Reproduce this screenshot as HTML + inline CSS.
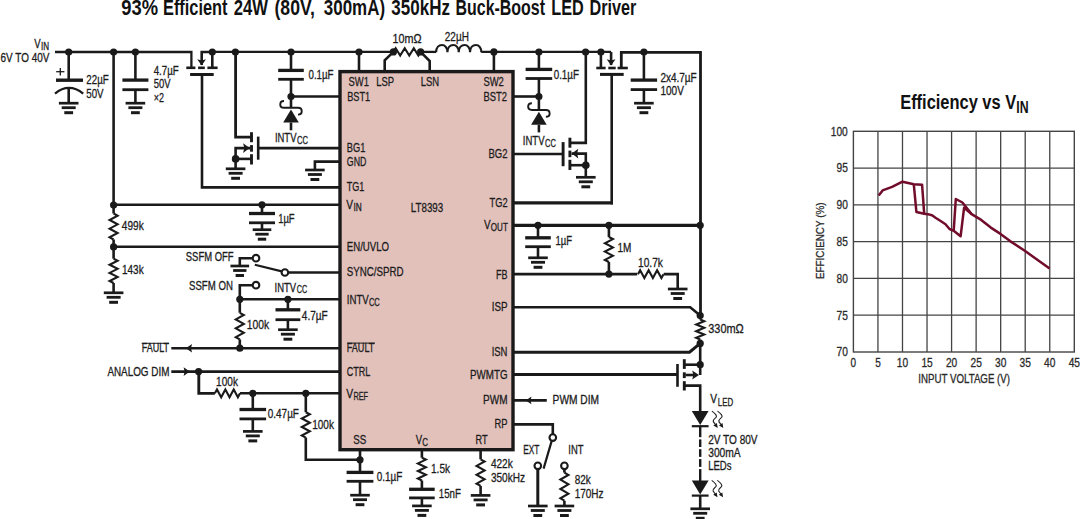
<!DOCTYPE html>
<html><head><meta charset="utf-8"><style>
html,body{margin:0;padding:0;background:#fff;}
svg{display:block;}
text{font-family:"Liberation Sans",sans-serif;}
</style></head><body>
<svg width="1080" height="519" viewBox="0 0 1080 519">
<rect width="1080" height="519" fill="#fff"/>
<text x="121.3" y="15.2" font-size="21.5" font-weight="bold" textLength="36.73" lengthAdjust="spacingAndGlyphs" fill="#111">93%</text>
<text x="163" y="15.2" font-size="21.5" font-weight="bold" textLength="64.57" lengthAdjust="spacingAndGlyphs" fill="#111">Efficient</text>
<text x="233.8" y="15.2" font-size="21.5" font-weight="bold" textLength="34.14" lengthAdjust="spacingAndGlyphs" fill="#111">24W</text>
<text x="274.5" y="15.2" font-size="21.5" font-weight="bold" textLength="40.47" lengthAdjust="spacingAndGlyphs" fill="#111">(80V,</text>
<text x="323.8" y="15.2" font-size="21.5" font-weight="bold" textLength="61.25" lengthAdjust="spacingAndGlyphs" fill="#111">300mA)</text>
<text x="391.3" y="15.2" font-size="21.5" font-weight="bold" textLength="58.64" lengthAdjust="spacingAndGlyphs" fill="#111">350kHz</text>
<text x="455.5" y="15.2" font-size="21.5" font-weight="bold" textLength="89.51" lengthAdjust="spacingAndGlyphs" fill="#111">Buck-Boost</text>
<text x="551.3" y="15.2" font-size="21.5" font-weight="bold" textLength="32.5" lengthAdjust="spacingAndGlyphs" fill="#111">LED</text>
<text x="589.5" y="15.2" font-size="21.5" font-weight="bold" textLength="46.81" lengthAdjust="spacingAndGlyphs" fill="#111">Driver</text>
<text x="34.3" y="47.6" font-size="12.4" textLength="6.37" lengthAdjust="spacingAndGlyphs" fill="#1c1c1c" stroke="#1c1c1c" stroke-width="0.3">V</text>
<text x="41" y="49.5" font-size="10.3" textLength="8.1" lengthAdjust="spacingAndGlyphs" fill="#1c1c1c" stroke="#1c1c1c" stroke-width="0.3">IN</text>
<text x="0.6" y="62" font-size="12.4" textLength="48.8" lengthAdjust="spacingAndGlyphs" fill="#1c1c1c" stroke="#1c1c1c" stroke-width="0.3">6V TO 40V</text>
<polyline points="55,52 191.4,52 191.4,68" fill="none" stroke="#1a1a1a" stroke-width="2.3" stroke-linejoin="miter"/>
<circle cx="68.7" cy="52" r="3.6" fill="#1a1a1a"/>
<circle cx="113.6" cy="52" r="3.6" fill="#1a1a1a"/>
<circle cx="135.4" cy="52" r="3.6" fill="#1a1a1a"/>
<line x1="68.7" y1="52" x2="68.7" y2="80" stroke="#1a1a1a" stroke-width="2.6"/>
<rect x="56" y="78.5" width="27" height="3.4" fill="#1a1a1a"/>
<path d="M55,93.6 Q68.9,82.2 83.2,93.6" fill="none" stroke="#1a1a1a" stroke-width="2.3"/>
<line x1="68.7" y1="88.5" x2="68.7" y2="103" stroke="#1a1a1a" stroke-width="2.6"/>
<rect x="58.9" y="101.85" width="19.6" height="2.7" fill="#1a1a1a"/>
<rect x="61.7" y="106.3" width="14" height="2.8" fill="#1a1a1a"/>
<rect x="64.3" y="111.2" width="8.8" height="3" fill="#1a1a1a"/>
<line x1="56.2" y1="71.7" x2="64.4" y2="71.7" stroke="#1a1a1a" stroke-width="1.3"/>
<line x1="60.3" y1="67.9" x2="60.3" y2="75.5" stroke="#1a1a1a" stroke-width="1.3"/>
<text x="86.3" y="84.3" font-size="12.4" textLength="22.39" lengthAdjust="spacingAndGlyphs" fill="#1c1c1c" stroke="#1c1c1c" stroke-width="0.3">22µF</text>
<text x="86.3" y="97.8" font-size="12.4" textLength="17.29" lengthAdjust="spacingAndGlyphs" fill="#1c1c1c" stroke="#1c1c1c" stroke-width="0.3">50V</text>
<line x1="135.4" y1="52" x2="135.4" y2="80" stroke="#1a1a1a" stroke-width="2.6"/>
<rect x="122.4" y="78.45" width="26" height="3.3" fill="#1a1a1a"/>
<rect x="122.4" y="88.3" width="26" height="2.8" fill="#1a1a1a"/>
<line x1="135.4" y1="89.7" x2="135.4" y2="103" stroke="#1a1a1a" stroke-width="2.6"/>
<rect x="125.6" y="101.85" width="19.6" height="2.7" fill="#1a1a1a"/>
<rect x="128.4" y="106.3" width="14" height="2.8" fill="#1a1a1a"/>
<rect x="131" y="111.2" width="8.8" height="3" fill="#1a1a1a"/>
<text x="153.7" y="74.5" font-size="12.4" textLength="24.97" lengthAdjust="spacingAndGlyphs" fill="#1c1c1c" stroke="#1c1c1c" stroke-width="0.3">4.7µF</text>
<text x="153.7" y="88.4" font-size="12.4" textLength="16.89" lengthAdjust="spacingAndGlyphs" fill="#1c1c1c" stroke="#1c1c1c" stroke-width="0.3">50V</text>
<text x="153.7" y="102.3" font-size="12.4" textLength="10.3" lengthAdjust="spacingAndGlyphs" fill="#1c1c1c" stroke="#1c1c1c" stroke-width="0.3">×2</text>
<line x1="113.6" y1="52" x2="113.6" y2="213.5" stroke="#1a1a1a" stroke-width="2.6"/>
<circle cx="113.6" cy="205" r="3.6" fill="#1a1a1a"/>
<circle cx="113.6" cy="246.9" r="3.6" fill="#1a1a1a"/>
<polyline points="113.6,213.5 117.6,215.67 109.6,220 117.6,224.33 109.6,228.67 117.6,233 109.6,237.33 113.6,239.5" fill="none" stroke="#1a1a1a" stroke-width="2.1" stroke-linejoin="miter"/>
<polyline points="113.6,258.7 117.6,260.72 109.6,264.77 117.6,268.82 109.6,272.88 117.6,276.93 109.6,280.98 113.6,283" fill="none" stroke="#1a1a1a" stroke-width="2.1" stroke-linejoin="miter"/>
<line x1="113.6" y1="239.5" x2="113.6" y2="258.7" stroke="#1a1a1a" stroke-width="2.6"/>
<line x1="113.6" y1="283" x2="113.6" y2="292.8" stroke="#1a1a1a" stroke-width="2.6"/>
<rect x="103.8" y="291.45" width="19.6" height="2.7" fill="#1a1a1a"/>
<rect x="106.6" y="295.9" width="14" height="2.8" fill="#1a1a1a"/>
<rect x="109.2" y="300.8" width="8.8" height="3" fill="#1a1a1a"/>
<text x="121.8" y="230.1" font-size="12.4" textLength="21.88" lengthAdjust="spacingAndGlyphs" fill="#1c1c1c" stroke="#1c1c1c" stroke-width="0.3">499k</text>
<text x="122" y="273.7" font-size="12.4" textLength="21.68" lengthAdjust="spacingAndGlyphs" fill="#1c1c1c" stroke="#1c1c1c" stroke-width="0.3">143k</text>
<rect x="186.3" y="66.5" width="9.1" height="2.6" fill="#1a1a1a"/>
<rect x="198.1" y="66.5" width="6.7" height="2.6" fill="#1a1a1a"/>
<rect x="207.4" y="66.5" width="10.2" height="2.6" fill="#1a1a1a"/>
<rect x="190.1" y="73" width="23.6" height="3" fill="#1a1a1a"/>
<polyline points="212.3,68 212.3,52 201.7,52 201.7,65" fill="none" stroke="#1a1a1a" stroke-width="2.6" stroke-linejoin="miter"/>
<polygon points="201.6,65.6 197.2,59.2 201.6,60.4 206,59.2" fill="#1a1a1a"/>
<circle cx="212.3" cy="52" r="3.6" fill="#1a1a1a"/>
<polyline points="202,74.5 202,187.4 340,187.4" fill="none" stroke="#1a1a1a" stroke-width="2.6" stroke-linejoin="miter"/>
<line x1="212.3" y1="51.9" x2="393.3" y2="51.9" stroke="#1a1a1a" stroke-width="2.3"/>
<circle cx="235.4" cy="52" r="3.6" fill="#1a1a1a"/>
<circle cx="291" cy="52" r="3.6" fill="#1a1a1a"/>
<circle cx="359" cy="52" r="3.6" fill="#1a1a1a"/>
<line x1="359" y1="52" x2="359" y2="72" stroke="#1a1a1a" stroke-width="2.6"/>
<polyline points="235.6,52 235.6,137.2 251.5,137.2" fill="none" stroke="#1a1a1a" stroke-width="2.8" stroke-linejoin="miter"/>
<rect x="250.05" y="132.2" width="2.9" height="10" fill="#1a1a1a"/>
<rect x="250.05" y="145.1" width="2.9" height="6.6" fill="#1a1a1a"/>
<rect x="250.05" y="154.2" width="2.9" height="10.3" fill="#1a1a1a"/>
<rect x="256.9" y="136.6" width="2.6" height="23.1" fill="#1a1a1a"/>
<line x1="258.2" y1="148.1" x2="340" y2="148.1" stroke="#1a1a1a" stroke-width="2.9"/>
<polyline points="250,148.1 235.6,148.1 235.6,168.8" fill="none" stroke="#1a1a1a" stroke-width="2.6" stroke-linejoin="miter"/>
<polygon points="249.6,148.1 243.1,143.3 244.3,148.1 243.1,152.9" fill="#1a1a1a"/>
<line x1="235.6" y1="158.9" x2="251.5" y2="158.9" stroke="#1a1a1a" stroke-width="2.6"/>
<circle cx="235.6" cy="158.9" r="3.8" fill="#1a1a1a"/>
<rect x="225.8" y="167.45" width="19.6" height="2.7" fill="#1a1a1a"/>
<rect x="228.6" y="171.9" width="14" height="2.8" fill="#1a1a1a"/>
<rect x="231.2" y="176.8" width="8.8" height="3" fill="#1a1a1a"/>
<line x1="291" y1="52" x2="291" y2="70.4" stroke="#1a1a1a" stroke-width="2.6"/>
<rect x="278.2" y="68.75" width="25.6" height="3.3" fill="#1a1a1a"/>
<rect x="278.2" y="77.9" width="25.6" height="2.8" fill="#1a1a1a"/>
<line x1="291" y1="79.3" x2="291" y2="96.5" stroke="#1a1a1a" stroke-width="2.6"/>
<circle cx="291" cy="96.5" r="3.6" fill="#1a1a1a"/>
<line x1="291" y1="96.5" x2="340" y2="96.5" stroke="#1a1a1a" stroke-width="2.6"/>
<line x1="291" y1="96.5" x2="291" y2="107.8" stroke="#1a1a1a" stroke-width="2.6"/>
<path d="M284,101 C279,101 279,107.8 284,107.8 L298,107.8 C303,107.8 303,114.6 298,114.6" fill="none" stroke="#1a1a1a" stroke-width="1.9"/>
<polygon points="291,109.5 283.2,122.5 298.8,122.5" fill="#1a1a1a"/>
<line x1="291" y1="122.5" x2="291" y2="130.3" stroke="#1a1a1a" stroke-width="2.6"/>
<text x="308.5" y="79.2" font-size="12.4" textLength="24.97" lengthAdjust="spacingAndGlyphs" fill="#1c1c1c" stroke="#1c1c1c" stroke-width="0.3">0.1µF</text>
<text x="274.9" y="141.8" font-size="12.4" textLength="21.58" lengthAdjust="spacingAndGlyphs" fill="#1c1c1c" stroke="#1c1c1c" stroke-width="0.3">INTV</text>
<text x="297" y="143.6" font-size="10.6" textLength="11.03" lengthAdjust="spacingAndGlyphs" fill="#1c1c1c" stroke="#1c1c1c" stroke-width="0.3">CC</text>
<polyline points="340,161.6 314.9,161.6 314.9,170" fill="none" stroke="#1a1a1a" stroke-width="2.6" stroke-linejoin="miter"/>
<rect x="305.1" y="168.65" width="19.6" height="2.7" fill="#1a1a1a"/>
<rect x="307.9" y="173.1" width="14" height="2.8" fill="#1a1a1a"/>
<rect x="310.5" y="178" width="8.8" height="3" fill="#1a1a1a"/>
<circle cx="393.4" cy="51.9" r="3.6" fill="#1a1a1a"/>
<polyline points="393.4,51.9 384.7,60.2 384.7,72" fill="none" stroke="#1a1a1a" stroke-width="2.6" stroke-linejoin="miter"/>
<polyline points="393.4,51.9 395.67,48.3 400.2,55.5 404.73,48.3 409.27,55.5 413.8,48.3 418.33,55.5 420.6,51.9" fill="none" stroke="#1a1a1a" stroke-width="2.1" stroke-linejoin="miter"/>
<circle cx="420.6" cy="51.9" r="3.6" fill="#1a1a1a"/>
<polyline points="420.6,51.9 429.7,61 429.7,72" fill="none" stroke="#1a1a1a" stroke-width="2.6" stroke-linejoin="miter"/>
<line x1="420.6" y1="51.9" x2="436.1" y2="51.9" stroke="#1a1a1a" stroke-width="2.3"/>
<path d="M436.1,52.3 C436.3,42.6 447.7,42.6 447.4,52.3 C447.6,42.6 459,42.6 458.7,52.3 C458.9,42.6 470.3,42.6 470,52.3 C470.2,42.6 481.6,42.6 481.3,52.3" fill="none" stroke="#1a1a1a" stroke-width="2.2"/>
<line x1="481.3" y1="51.9" x2="611.1" y2="51.9" stroke="#1a1a1a" stroke-width="2.3"/>
<text x="392.5" y="42.6" font-size="12.4" textLength="29.03" lengthAdjust="spacingAndGlyphs" fill="#1c1c1c" stroke="#1c1c1c" stroke-width="0.3">10mΩ</text>
<text x="444.8" y="40.5" font-size="12.4" textLength="24.11" lengthAdjust="spacingAndGlyphs" fill="#1c1c1c" stroke="#1c1c1c" stroke-width="0.3">22µH</text>
<circle cx="493.9" cy="51.9" r="3.6" fill="#1a1a1a"/>
<circle cx="538.9" cy="52" r="3.6" fill="#1a1a1a"/>
<circle cx="585.6" cy="52" r="3.6" fill="#1a1a1a"/>
<circle cx="600.9" cy="52" r="3.6" fill="#1a1a1a"/>
<line x1="493.9" y1="51.9" x2="493.9" y2="72" stroke="#1a1a1a" stroke-width="2.6"/>
<rect x="596.3" y="66.7" width="9.3" height="2.6" fill="#1a1a1a"/>
<rect x="608.3" y="66.7" width="7.4" height="2.6" fill="#1a1a1a"/>
<rect x="617.6" y="66.7" width="10.2" height="2.6" fill="#1a1a1a"/>
<rect x="600" y="72.9" width="23.7" height="3" fill="#1a1a1a"/>
<line x1="600.9" y1="52" x2="600.9" y2="68" stroke="#1a1a1a" stroke-width="2.6"/>
<polyline points="611.1,52 611.1,65" fill="none" stroke="#1a1a1a" stroke-width="2.6" stroke-linejoin="miter"/>
<polygon points="611.1,65.6 606.7,59.2 611.1,60.4 615.5,59.2" fill="#1a1a1a"/>
<line x1="611.7" y1="74.4" x2="611.7" y2="204.4" stroke="#1a1a1a" stroke-width="2.6"/>
<line x1="613" y1="202.9" x2="512.7" y2="202.9" stroke="#1a1a1a" stroke-width="3.2"/>
<polyline points="621.3,68 621.3,52.3 700.5,52.3 700.5,315.5" fill="none" stroke="#1a1a1a" stroke-width="2.8" stroke-linejoin="miter"/>
<circle cx="643.9" cy="52" r="3.6" fill="#1a1a1a"/>
<line x1="643.9" y1="52" x2="643.9" y2="80" stroke="#1a1a1a" stroke-width="2.6"/>
<rect x="630.7" y="78.45" width="26.4" height="3.3" fill="#1a1a1a"/>
<rect x="630.7" y="88.2" width="26.4" height="2.8" fill="#1a1a1a"/>
<line x1="643.9" y1="89.6" x2="643.9" y2="103.2" stroke="#1a1a1a" stroke-width="2.6"/>
<rect x="634.1" y="101.85" width="19.6" height="2.7" fill="#1a1a1a"/>
<rect x="636.9" y="106.3" width="14" height="2.8" fill="#1a1a1a"/>
<rect x="639.5" y="111.2" width="8.8" height="3" fill="#1a1a1a"/>
<text x="660.4" y="81.8" font-size="12.4" textLength="36.23" lengthAdjust="spacingAndGlyphs" fill="#1c1c1c" stroke="#1c1c1c" stroke-width="0.3">2x4.7µF</text>
<text x="660.4" y="94.9" font-size="12.4" textLength="23.45" lengthAdjust="spacingAndGlyphs" fill="#1c1c1c" stroke="#1c1c1c" stroke-width="0.3">100V</text>
<polyline points="585.8,52 585.8,142.9 569.9,142.9" fill="none" stroke="#1a1a1a" stroke-width="2.6" stroke-linejoin="miter"/>
<rect x="568.45" y="137.7" width="2.9" height="10" fill="#1a1a1a"/>
<rect x="568.45" y="150.6" width="2.9" height="6.6" fill="#1a1a1a"/>
<rect x="568.45" y="159.8" width="2.9" height="10.2" fill="#1a1a1a"/>
<rect x="561.65" y="142.1" width="2.9" height="24.1" fill="#1a1a1a"/>
<line x1="563.1" y1="154" x2="512.7" y2="154" stroke="#1a1a1a" stroke-width="2.6"/>
<polyline points="571.5,153.6 585.8,153.6 585.8,177.3" fill="none" stroke="#1a1a1a" stroke-width="2.6" stroke-linejoin="miter"/>
<polygon points="571.8,153.6 578.3,148.8 577.1,153.6 578.3,158.4" fill="#1a1a1a"/>
<line x1="569.9" y1="165.2" x2="585.8" y2="165.2" stroke="#1a1a1a" stroke-width="2.6"/>
<circle cx="585.8" cy="165.2" r="3.8" fill="#1a1a1a"/>
<rect x="576" y="175.95" width="19.6" height="2.7" fill="#1a1a1a"/>
<rect x="578.8" y="180.4" width="14" height="2.8" fill="#1a1a1a"/>
<rect x="581.4" y="185.3" width="8.8" height="3" fill="#1a1a1a"/>
<line x1="538.9" y1="52" x2="538.9" y2="69.4" stroke="#1a1a1a" stroke-width="2.6"/>
<rect x="525.6" y="67.75" width="26.6" height="3.3" fill="#1a1a1a"/>
<rect x="525.6" y="77.1" width="26.6" height="2.8" fill="#1a1a1a"/>
<line x1="538.9" y1="78.5" x2="538.9" y2="96.5" stroke="#1a1a1a" stroke-width="2.6"/>
<circle cx="538.9" cy="96.5" r="3.6" fill="#1a1a1a"/>
<line x1="538.9" y1="96.5" x2="512.7" y2="96.5" stroke="#1a1a1a" stroke-width="2.6"/>
<line x1="538.9" y1="96.5" x2="538.9" y2="110" stroke="#1a1a1a" stroke-width="2.6"/>
<path d="M531.9,103.2 C526.9,103.2 526.9,110 531.9,110 L545.9,110 C550.9,110 550.9,116.8 545.9,116.8" fill="none" stroke="#1a1a1a" stroke-width="1.9"/>
<polygon points="538.9,111.8 531.1,124.8 546.7,124.8" fill="#1a1a1a"/>
<line x1="538.9" y1="124.8" x2="538.9" y2="132.4" stroke="#1a1a1a" stroke-width="2.6"/>
<text x="553.7" y="78.6" font-size="12.4" textLength="25.27" lengthAdjust="spacingAndGlyphs" fill="#1c1c1c" stroke="#1c1c1c" stroke-width="0.3">0.1µF</text>
<text x="522.8" y="144.6" font-size="12.4" textLength="21.78" lengthAdjust="spacingAndGlyphs" fill="#1c1c1c" stroke="#1c1c1c" stroke-width="0.3">INTV</text>
<text x="545" y="147.2" font-size="10.6" textLength="10.83" lengthAdjust="spacingAndGlyphs" fill="#1c1c1c" stroke="#1c1c1c" stroke-width="0.3">CC</text>
<rect x="340.0" y="71.6" width="173.0" height="378.1" fill="#e2c1bb" stroke="#1a1a1a" stroke-width="3.4"/>
<line x1="113.6" y1="204.8" x2="340" y2="204.8" stroke="#1a1a1a" stroke-width="2.6"/>
<circle cx="262" cy="204.8" r="3.6" fill="#1a1a1a"/>
<line x1="262" y1="204.8" x2="262" y2="213.5" stroke="#1a1a1a" stroke-width="2.6"/>
<rect x="249" y="211.85" width="26" height="3.3" fill="#1a1a1a"/>
<rect x="249" y="221.4" width="26" height="2.8" fill="#1a1a1a"/>
<line x1="262" y1="222.8" x2="262" y2="229.7" stroke="#1a1a1a" stroke-width="2.6"/>
<rect x="252.69" y="228.35" width="18.62" height="2.7" fill="#1a1a1a"/>
<rect x="255.35" y="232.8" width="13.3" height="2.8" fill="#1a1a1a"/>
<rect x="257.82" y="237.7" width="8.36" height="3" fill="#1a1a1a"/>
<text x="278.2" y="222.8" font-size="12.4" textLength="16.43" lengthAdjust="spacingAndGlyphs" fill="#1c1c1c" stroke="#1c1c1c" stroke-width="0.3">1µF</text>
<line x1="113.6" y1="246.8" x2="340" y2="246.8" stroke="#1a1a1a" stroke-width="2.6"/>
<line x1="287.9" y1="272.5" x2="340" y2="272.5" stroke="#1a1a1a" stroke-width="2.6"/>
<circle cx="284.9" cy="272.5" r="3.3" fill="#fff" stroke="#1a1a1a" stroke-width="2.1"/>
<line x1="281.8" y1="271.4" x2="254.8" y2="264.8" stroke="#1a1a1a" stroke-width="2.2"/>
<circle cx="256" cy="258.2" r="3.3" fill="#fff" stroke="#1a1a1a" stroke-width="2.1"/>
<polyline points="253,258.2 239.8,258.2 239.8,266" fill="none" stroke="#1a1a1a" stroke-width="2.6" stroke-linejoin="miter"/>
<rect x="230.49" y="264.65" width="18.62" height="2.7" fill="#1a1a1a"/>
<rect x="233.15" y="269.1" width="13.3" height="2.8" fill="#1a1a1a"/>
<rect x="235.62" y="274" width="8.36" height="3" fill="#1a1a1a"/>
<circle cx="256" cy="285.2" r="3.3" fill="#fff" stroke="#1a1a1a" stroke-width="2.1"/>
<polyline points="253,285.2 239.8,285.2 239.8,312.8" fill="none" stroke="#1a1a1a" stroke-width="2.6" stroke-linejoin="miter"/>
<text x="185.8" y="261.3" font-size="12.4" textLength="47.75" lengthAdjust="spacingAndGlyphs" fill="#1c1c1c" stroke="#1c1c1c" stroke-width="0.3">SSFM OFF</text>
<text x="189" y="289.7" font-size="12.4" textLength="43.86" lengthAdjust="spacingAndGlyphs" fill="#1c1c1c" stroke="#1c1c1c" stroke-width="0.3">SSFM ON</text>
<text x="274.6" y="291.5" font-size="12.4" textLength="21.58" lengthAdjust="spacingAndGlyphs" fill="#1c1c1c" stroke="#1c1c1c" stroke-width="0.3">INTV</text>
<text x="296.8" y="292.8" font-size="10.6" textLength="10.43" lengthAdjust="spacingAndGlyphs" fill="#1c1c1c" stroke="#1c1c1c" stroke-width="0.3">CC</text>
<line x1="239.8" y1="299.3" x2="340" y2="299.3" stroke="#1a1a1a" stroke-width="2.6"/>
<circle cx="239.8" cy="299.3" r="3.6" fill="#1a1a1a"/>
<circle cx="287.9" cy="299.3" r="3.6" fill="#1a1a1a"/>
<line x1="287.9" y1="299.3" x2="287.9" y2="309.8" stroke="#1a1a1a" stroke-width="2.6"/>
<rect x="275.5" y="308.15" width="24.8" height="3.3" fill="#1a1a1a"/>
<rect x="275.5" y="318.3" width="24.8" height="2.8" fill="#1a1a1a"/>
<line x1="287.9" y1="319.7" x2="287.9" y2="329.7" stroke="#1a1a1a" stroke-width="2.6"/>
<rect x="278.1" y="328.35" width="19.6" height="2.7" fill="#1a1a1a"/>
<rect x="280.9" y="332.8" width="14" height="2.8" fill="#1a1a1a"/>
<rect x="283.5" y="337.7" width="8.8" height="3" fill="#1a1a1a"/>
<text x="301.8" y="319.7" font-size="12.4" textLength="25.87" lengthAdjust="spacingAndGlyphs" fill="#1c1c1c" stroke="#1c1c1c" stroke-width="0.3">4.7µF</text>
<polyline points="239.8,312.8 243.8,315.02 235.8,319.45 243.8,323.88 235.8,328.32 243.8,332.75 235.8,337.18 239.8,339.4" fill="none" stroke="#1a1a1a" stroke-width="2.1" stroke-linejoin="miter"/>
<line x1="239.8" y1="339.4" x2="239.8" y2="348.2" stroke="#1a1a1a" stroke-width="2.6"/>
<text x="246.7" y="329" font-size="12.4" textLength="22.38" lengthAdjust="spacingAndGlyphs" fill="#1c1c1c" stroke="#1c1c1c" stroke-width="0.3">100k</text>
<line x1="171.3" y1="348.2" x2="340" y2="348.2" stroke="#1a1a1a" stroke-width="2.6"/>
<polygon points="185.8,348.2 192,343.9 191,348.2 192,352.5" fill="#1a1a1a"/>
<circle cx="239.8" cy="348.2" r="3.6" fill="#1a1a1a"/>
<text x="141.7" y="352" font-size="12.4" textLength="27.28" lengthAdjust="spacingAndGlyphs" fill="#1c1c1c" stroke="#1c1c1c" stroke-width="0.3">FAULT</text>
<line x1="141.7" y1="343.3" x2="169" y2="343.3" stroke="#1c1c1c" stroke-width="1"/>
<line x1="171.3" y1="371.6" x2="340" y2="371.6" stroke="#1a1a1a" stroke-width="2.6"/>
<polygon points="189.8,371.6 183.6,367.3 184.6,371.6 183.6,375.9" fill="#1a1a1a"/>
<circle cx="198.6" cy="371.6" r="3.6" fill="#1a1a1a"/>
<text x="107.4" y="375.6" font-size="12.4" textLength="61.99" lengthAdjust="spacingAndGlyphs" fill="#1c1c1c" stroke="#1c1c1c" stroke-width="0.3">ANALOG DIM</text>
<polyline points="198.8,371.6 198.8,393.4 214.9,393.4" fill="none" stroke="#1a1a1a" stroke-width="2.9" stroke-linejoin="miter"/>
<polyline points="214.9,393.3 216.99,389.4 221.18,397.2 225.36,389.4 229.54,397.2 233.72,389.4 237.91,397.2 240,393.3" fill="none" stroke="#1a1a1a" stroke-width="2.1" stroke-linejoin="miter"/>
<line x1="240" y1="393.3" x2="340" y2="393.3" stroke="#1a1a1a" stroke-width="2.6"/>
<text x="216.1" y="385.7" font-size="12.4" textLength="21.88" lengthAdjust="spacingAndGlyphs" fill="#1c1c1c" stroke="#1c1c1c" stroke-width="0.3">100k</text>
<circle cx="252.8" cy="393.3" r="3.6" fill="#1a1a1a"/>
<circle cx="305.8" cy="393.3" r="3.6" fill="#1a1a1a"/>
<line x1="252.8" y1="393.3" x2="252.8" y2="409.5" stroke="#1a1a1a" stroke-width="2.6"/>
<rect x="239.5" y="407.85" width="26.6" height="3.3" fill="#1a1a1a"/>
<rect x="239.5" y="417.5" width="26.6" height="2.8" fill="#1a1a1a"/>
<line x1="252.8" y1="418.9" x2="252.8" y2="431.4" stroke="#1a1a1a" stroke-width="2.6"/>
<rect x="243" y="430.05" width="19.6" height="2.7" fill="#1a1a1a"/>
<rect x="245.8" y="434.5" width="14" height="2.8" fill="#1a1a1a"/>
<rect x="248.4" y="439.4" width="8.8" height="3" fill="#1a1a1a"/>
<text x="267.8" y="417.6" font-size="12.4" textLength="31.13" lengthAdjust="spacingAndGlyphs" fill="#1c1c1c" stroke="#1c1c1c" stroke-width="0.3">0.47µF</text>
<line x1="305.8" y1="393.3" x2="305.8" y2="412.2" stroke="#1a1a1a" stroke-width="2.6"/>
<polyline points="305.8,412.2 309.8,414.32 301.8,418.55 309.8,422.78 301.8,427.02 309.8,431.25 301.8,435.48 305.8,437.6" fill="none" stroke="#1a1a1a" stroke-width="2.1" stroke-linejoin="miter"/>
<polyline points="305.8,437.6 305.8,459.8 360,459.8" fill="none" stroke="#1a1a1a" stroke-width="2.6" stroke-linejoin="miter"/>
<text x="312.2" y="429.4" font-size="12.4" textLength="21.78" lengthAdjust="spacingAndGlyphs" fill="#1c1c1c" stroke="#1c1c1c" stroke-width="0.3">100k</text>
<line x1="360" y1="450" x2="360" y2="472.4" stroke="#1a1a1a" stroke-width="2.6"/>
<circle cx="360" cy="459.8" r="3.6" fill="#1a1a1a"/>
<rect x="346.6" y="470.75" width="26.8" height="3.3" fill="#1a1a1a"/>
<rect x="346.6" y="479.9" width="26.8" height="2.8" fill="#1a1a1a"/>
<line x1="360" y1="481.3" x2="360" y2="495.2" stroke="#1a1a1a" stroke-width="2.6"/>
<rect x="350.2" y="493.85" width="19.6" height="2.7" fill="#1a1a1a"/>
<rect x="353" y="498.3" width="14" height="2.8" fill="#1a1a1a"/>
<rect x="355.6" y="503.2" width="8.8" height="3" fill="#1a1a1a"/>
<text x="376.8" y="481.2" font-size="12.4" textLength="25.57" lengthAdjust="spacingAndGlyphs" fill="#1c1c1c" stroke="#1c1c1c" stroke-width="0.3">0.1µF</text>
<line x1="421.9" y1="450" x2="421.9" y2="457.7" stroke="#1a1a1a" stroke-width="2.6"/>
<polyline points="421.9,457.7 425.9,459.6 417.9,463.4 425.9,467.2 417.9,471 425.9,474.8 417.9,478.6 421.9,480.5" fill="none" stroke="#1a1a1a" stroke-width="2.1" stroke-linejoin="miter"/>
<line x1="421.9" y1="480.5" x2="421.9" y2="489.3" stroke="#1a1a1a" stroke-width="2.6"/>
<rect x="409.1" y="487.65" width="25.6" height="3.3" fill="#1a1a1a"/>
<rect x="409.1" y="496.5" width="25.6" height="2.8" fill="#1a1a1a"/>
<line x1="421.9" y1="497.9" x2="421.9" y2="505.9" stroke="#1a1a1a" stroke-width="2.6"/>
<rect x="412.1" y="504.55" width="19.6" height="2.7" fill="#1a1a1a"/>
<rect x="414.9" y="509" width="14" height="2.8" fill="#1a1a1a"/>
<rect x="417.5" y="513.9" width="8.8" height="3" fill="#1a1a1a"/>
<text x="431" y="472.6" font-size="12.4" textLength="19" lengthAdjust="spacingAndGlyphs" fill="#1c1c1c" stroke="#1c1c1c" stroke-width="0.3">1.5k</text>
<text x="438.8" y="497.7" font-size="12.4" textLength="22.09" lengthAdjust="spacingAndGlyphs" fill="#1c1c1c" stroke="#1c1c1c" stroke-width="0.3">15nF</text>
<line x1="480.6" y1="450" x2="480.6" y2="459.3" stroke="#1a1a1a" stroke-width="2.6"/>
<polyline points="480.6,459.3 484.6,461.52 476.6,465.95 484.6,470.38 476.6,474.82 484.6,479.25 476.6,483.68 480.6,485.9" fill="none" stroke="#1a1a1a" stroke-width="2.1" stroke-linejoin="miter"/>
<line x1="480.6" y1="485.9" x2="480.6" y2="495.4" stroke="#1a1a1a" stroke-width="2.6"/>
<rect x="470.8" y="494.05" width="19.6" height="2.7" fill="#1a1a1a"/>
<rect x="473.6" y="498.5" width="14" height="2.8" fill="#1a1a1a"/>
<rect x="476.2" y="503.4" width="8.8" height="3" fill="#1a1a1a"/>
<text x="490.9" y="467.7" font-size="12.4" textLength="21.88" lengthAdjust="spacingAndGlyphs" fill="#1c1c1c" stroke="#1c1c1c" stroke-width="0.3">422k</text>
<text x="490.9" y="481.6" font-size="12.4" textLength="34.1" lengthAdjust="spacingAndGlyphs" fill="#1c1c1c" stroke="#1c1c1c" stroke-width="0.3">350kHz</text>
<line x1="512.7" y1="225.4" x2="700.2" y2="225.4" stroke="#1a1a1a" stroke-width="3.1"/>
<circle cx="538" cy="225.3" r="3.6" fill="#1a1a1a"/>
<circle cx="608.9" cy="225.3" r="3.6" fill="#1a1a1a"/>
<circle cx="700.2" cy="225.3" r="3.6" fill="#1a1a1a"/>
<line x1="538" y1="225.3" x2="538" y2="237.8" stroke="#1a1a1a" stroke-width="2.6"/>
<rect x="525.2" y="236.15" width="25.6" height="3.3" fill="#1a1a1a"/>
<rect x="525.2" y="245.3" width="25.6" height="2.8" fill="#1a1a1a"/>
<line x1="538" y1="246.7" x2="538" y2="257.8" stroke="#1a1a1a" stroke-width="2.6"/>
<rect x="528.2" y="256.45" width="19.6" height="2.7" fill="#1a1a1a"/>
<rect x="531" y="260.9" width="14" height="2.8" fill="#1a1a1a"/>
<rect x="533.6" y="265.8" width="8.8" height="3" fill="#1a1a1a"/>
<text x="555.4" y="245.3" font-size="12.4" textLength="16.53" lengthAdjust="spacingAndGlyphs" fill="#1c1c1c" stroke="#1c1c1c" stroke-width="0.3">1µF</text>
<line x1="608.9" y1="225.3" x2="608.9" y2="237" stroke="#1a1a1a" stroke-width="2.6"/>
<polyline points="608.9,237 612.9,239.08 604.9,243.25 612.9,247.42 604.9,251.58 612.9,255.75 604.9,259.92 608.9,262" fill="none" stroke="#1a1a1a" stroke-width="2.1" stroke-linejoin="miter"/>
<line x1="608.9" y1="262" x2="608.9" y2="274.1" stroke="#1a1a1a" stroke-width="2.6"/>
<text x="617.4" y="252.2" font-size="12.4" textLength="13.89" lengthAdjust="spacingAndGlyphs" fill="#1c1c1c" stroke="#1c1c1c" stroke-width="0.3">1M</text>
<line x1="512.7" y1="274.1" x2="637.2" y2="274.1" stroke="#1a1a1a" stroke-width="2.6"/>
<circle cx="608.9" cy="274.1" r="3.6" fill="#1a1a1a"/>
<polyline points="638,274.2 640.12,270.3 644.38,278.1 648.62,270.3 652.88,278.1 657.12,270.3 661.38,278.1 663.5,274.2" fill="none" stroke="#1a1a1a" stroke-width="2.1" stroke-linejoin="miter"/>
<polyline points="663.7,274.1 677.7,274.1 677.7,289" fill="none" stroke="#1a1a1a" stroke-width="2.6" stroke-linejoin="miter"/>
<rect x="667.9" y="287.65" width="19.6" height="2.7" fill="#1a1a1a"/>
<rect x="670.7" y="292.1" width="14" height="2.8" fill="#1a1a1a"/>
<rect x="673.3" y="297" width="8.8" height="3" fill="#1a1a1a"/>
<text x="638" y="266.8" font-size="12.4" textLength="24.86" lengthAdjust="spacingAndGlyphs" fill="#1c1c1c" stroke="#1c1c1c" stroke-width="0.3">10.7k</text>
<polyline points="512.7,307.3 690.2,307.3 700.2,315.5" fill="none" stroke="#1a1a1a" stroke-width="2.6" stroke-linejoin="miter"/>
<circle cx="700.2" cy="315.5" r="3.6" fill="#1a1a1a"/>
<polyline points="700.2,319.5 704.2,321.17 696.2,324.5 704.2,327.83 696.2,331.17 704.2,334.5 696.2,337.83 700.2,339.5" fill="none" stroke="#1a1a1a" stroke-width="2.1" stroke-linejoin="miter"/>
<line x1="700.2" y1="315.5" x2="700.2" y2="319.5" stroke="#1a1a1a" stroke-width="2.6"/>
<line x1="700.2" y1="339.5" x2="700.2" y2="364.7" stroke="#1a1a1a" stroke-width="2.6"/>
<circle cx="700.2" cy="343.4" r="3.6" fill="#1a1a1a"/>
<polyline points="512.7,352.2 689.5,352.2 700.2,343.4" fill="none" stroke="#1a1a1a" stroke-width="3" stroke-linejoin="miter"/>
<text x="708.3" y="332.8" font-size="12.4" textLength="35.49" lengthAdjust="spacingAndGlyphs" fill="#1c1c1c" stroke="#1c1c1c" stroke-width="0.3">330mΩ</text>
<circle cx="700.2" cy="364.7" r="3.6" fill="#1a1a1a"/>
<rect x="682.85" y="359.2" width="2.9" height="9.7" fill="#1a1a1a"/>
<rect x="682.85" y="372.3" width="2.9" height="5.8" fill="#1a1a1a"/>
<rect x="682.85" y="381.2" width="2.9" height="9.3" fill="#1a1a1a"/>
<rect x="676.2" y="364" width="2.6" height="22.8" fill="#1a1a1a"/>
<line x1="512.7" y1="374.5" x2="677.5" y2="374.5" stroke="#1a1a1a" stroke-width="3.1"/>
<line x1="684.2" y1="364.7" x2="700.2" y2="364.7" stroke="#1a1a1a" stroke-width="2.6"/>
<line x1="685.5" y1="375" x2="694" y2="375" stroke="#1a1a1a" stroke-width="2.6"/>
<line x1="700.2" y1="375" x2="700.2" y2="364.7" stroke="#1a1a1a" stroke-width="2.6"/>
<polygon points="699,375 692.2,370.4 693.4,375 692.2,379.6" fill="#1a1a1a"/>
<polyline points="684.2,385.6 700.2,385.6 700.2,411" fill="none" stroke="#1a1a1a" stroke-width="2.6" stroke-linejoin="miter"/>
<text x="710.3" y="402.8" font-size="12.4" textLength="6.77" lengthAdjust="spacingAndGlyphs" fill="#1c1c1c" stroke="#1c1c1c" stroke-width="0.3">V</text>
<text x="717.8" y="405.6" font-size="10" textLength="15.36" lengthAdjust="spacingAndGlyphs" fill="#1c1c1c" stroke="#1c1c1c" stroke-width="0.3">LED</text>
<polygon points="691.8,411 708.6,411 700.2,425" fill="#1a1a1a"/>
<rect x="691.8" y="425.1" width="16.8" height="2.2" fill="#1a1a1a"/>
<line x1="700.2" y1="426.2" x2="700.2" y2="481" stroke="#1a1a1a" stroke-width="2.4"/>
<rect x="698" y="437.2" width="4.4" height="2.2" fill="#fff"/>
<rect x="698" y="447" width="4.4" height="2.2" fill="#fff"/>
<rect x="698" y="456.9" width="4.4" height="2.2" fill="#fff"/>
<rect x="698" y="466.9" width="4.4" height="2.2" fill="#fff"/>
<polygon points="691.8,480.6 708.6,480.6 700.2,494.6" fill="#1a1a1a"/>
<rect x="691.8" y="494.5" width="16.8" height="2.2" fill="#1a1a1a"/>
<line x1="700.2" y1="495.6" x2="700.2" y2="508.8" stroke="#1a1a1a" stroke-width="2.6"/>
<rect x="690.4" y="507.45" width="19.6" height="2.7" fill="#1a1a1a"/>
<rect x="693.2" y="511.9" width="14" height="2.8" fill="#1a1a1a"/>
<rect x="695.8" y="516.8" width="8.8" height="3" fill="#1a1a1a"/>
<text x="708.2" y="444.1" font-size="12.4" textLength="49.4" lengthAdjust="spacingAndGlyphs" fill="#1c1c1c" stroke="#1c1c1c" stroke-width="0.3">2V TO 80V</text>
<text x="708.2" y="457.1" font-size="12.4" textLength="32.48" lengthAdjust="spacingAndGlyphs" fill="#1c1c1c" stroke="#1c1c1c" stroke-width="0.3">300mA</text>
<text x="708.2" y="470.1" font-size="12.4" textLength="23.36" lengthAdjust="spacingAndGlyphs" fill="#1c1c1c" stroke="#1c1c1c" stroke-width="0.3">LEDs</text>
<path d="M711.9,411.1 C715.4,413.6 717.4,416.1 716.1,417.4 C714.7,418.7 712.7,419.7 713.3,421.7 L715.5,424.7" fill="none" stroke="#222" stroke-width="1.15"/>
<polygon points="717.7,428 716.9,423.1 713.4,425.5" fill="#1a1a1a"/>
<path d="M717.5,411.1 C721,413.6 723,416.1 721.7,417.4 C720.3,418.7 718.3,419.7 718.9,421.7 L721.1,424.7" fill="none" stroke="#222" stroke-width="1.15"/>
<polygon points="723.3,428 722.5,423.1 719,425.5" fill="#1a1a1a"/>
<path d="M711.7,480.4 C715.2,482.9 717.2,485.4 715.9,486.7 C714.5,488 712.5,489 713.1,491 L715.3,494" fill="none" stroke="#222" stroke-width="1.15"/>
<polygon points="717.5,497.3 716.7,492.4 713.2,494.8" fill="#1a1a1a"/>
<path d="M717.3,480.4 C720.8,482.9 722.8,485.4 721.5,486.7 C720.1,488 718.1,489 718.7,491 L720.9,494" fill="none" stroke="#222" stroke-width="1.15"/>
<polygon points="723.1,497.3 722.3,492.4 718.8,494.8" fill="#1a1a1a"/>
<line x1="512.7" y1="400.4" x2="546.8" y2="400.4" stroke="#1a1a1a" stroke-width="2.6"/>
<polygon points="525.7,400.4 531.5,396.5 530.5,400.4 531.5,404.3" fill="#1a1a1a"/>
<text x="552.6" y="403.9" font-size="12.4" textLength="46.45" lengthAdjust="spacingAndGlyphs" fill="#1c1c1c" stroke="#1c1c1c" stroke-width="0.3">PWM DIM</text>
<polyline points="512.7,424.4 552.8,424.4 552.8,434.6" fill="none" stroke="#1a1a1a" stroke-width="2.6" stroke-linejoin="miter"/>
<circle cx="552.8" cy="437.6" r="3.3" fill="#fff" stroke="#1a1a1a" stroke-width="2.1"/>
<line x1="551.7" y1="440.9" x2="543.6" y2="468.6" stroke="#1a1a1a" stroke-width="2.2"/>
<circle cx="537.8" cy="465.8" r="3.3" fill="#fff" stroke="#1a1a1a" stroke-width="2.1"/>
<line x1="537.8" y1="468.8" x2="537.8" y2="506" stroke="#1a1a1a" stroke-width="3"/>
<rect x="528" y="504.65" width="19.6" height="2.7" fill="#1a1a1a"/>
<rect x="530.8" y="509.1" width="14" height="2.8" fill="#1a1a1a"/>
<rect x="533.4" y="514" width="8.8" height="3" fill="#1a1a1a"/>
<circle cx="564.4" cy="465.8" r="3.3" fill="#fff" stroke="#1a1a1a" stroke-width="2.1"/>
<line x1="564.4" y1="468.8" x2="564.4" y2="472.6" stroke="#1a1a1a" stroke-width="2.6"/>
<polyline points="564.4,472.6 568.4,474.94 560.4,479.62 568.4,484.31 560.4,488.99 568.4,493.68 560.4,498.36 564.4,500.7" fill="none" stroke="#1a1a1a" stroke-width="2.1" stroke-linejoin="miter"/>
<line x1="564.4" y1="500.7" x2="564.4" y2="506" stroke="#1a1a1a" stroke-width="2.6"/>
<rect x="554.6" y="504.65" width="19.6" height="2.7" fill="#1a1a1a"/>
<rect x="557.4" y="509.1" width="14" height="2.8" fill="#1a1a1a"/>
<rect x="560" y="514" width="8.8" height="3" fill="#1a1a1a"/>
<text x="523.3" y="454.2" font-size="12.4" textLength="16.14" lengthAdjust="spacingAndGlyphs" fill="#1c1c1c" stroke="#1c1c1c" stroke-width="0.3">EXT</text>
<text x="568.3" y="454.2" font-size="12.4" textLength="15.11" lengthAdjust="spacingAndGlyphs" fill="#1c1c1c" stroke="#1c1c1c" stroke-width="0.3">INT</text>
<text x="574.7" y="483.9" font-size="12.4" textLength="16.12" lengthAdjust="spacingAndGlyphs" fill="#1c1c1c" stroke="#1c1c1c" stroke-width="0.3">82k</text>
<text x="574.7" y="497.8" font-size="12.4" textLength="28.9" lengthAdjust="spacingAndGlyphs" fill="#1c1c1c" stroke="#1c1c1c" stroke-width="0.3">170Hz</text>
<text x="348.6" y="85.6" font-size="12.8" textLength="20.37" lengthAdjust="spacingAndGlyphs" fill="#1c1c1c" stroke="#1c1c1c" stroke-width="0.3">SW1</text>
<text x="376.2" y="85.6" font-size="12.8" textLength="17.8" lengthAdjust="spacingAndGlyphs" fill="#1c1c1c" stroke="#1c1c1c" stroke-width="0.3">LSP</text>
<text x="420.7" y="85.6" font-size="12.8" textLength="18.46" lengthAdjust="spacingAndGlyphs" fill="#1c1c1c" stroke="#1c1c1c" stroke-width="0.3">LSN</text>
<text x="483.4" y="85.6" font-size="12.8" textLength="20.47" lengthAdjust="spacingAndGlyphs" fill="#1c1c1c" stroke="#1c1c1c" stroke-width="0.3">SW2</text>
<text x="347.2" y="100.5" font-size="12.8" textLength="23.01" lengthAdjust="spacingAndGlyphs" fill="#1c1c1c" stroke="#1c1c1c" stroke-width="0.3">BST1</text>
<text x="483.5" y="100.5" font-size="12.8" textLength="23.51" lengthAdjust="spacingAndGlyphs" fill="#1c1c1c" stroke="#1c1c1c" stroke-width="0.3">BST2</text>
<text x="346.8" y="152.2" font-size="12.8" textLength="18.51" lengthAdjust="spacingAndGlyphs" fill="#1c1c1c" stroke="#1c1c1c" stroke-width="0.3">BG1</text>
<text x="346.8" y="165.5" font-size="12.8" textLength="19.52" lengthAdjust="spacingAndGlyphs" fill="#1c1c1c" stroke="#1c1c1c" stroke-width="0.3">GND</text>
<text x="346.8" y="191.1" font-size="12.8" textLength="17.54" lengthAdjust="spacingAndGlyphs" fill="#1c1c1c" stroke="#1c1c1c" stroke-width="0.3">TG1</text>
<text x="346.3" y="208.7" font-size="12.8" textLength="6.77" lengthAdjust="spacingAndGlyphs" fill="#1c1c1c" stroke="#1c1c1c" stroke-width="0.3">V</text>
<text x="353.4" y="210.7" font-size="10.3" textLength="8.3" lengthAdjust="spacingAndGlyphs" fill="#1c1c1c" stroke="#1c1c1c" stroke-width="0.3">IN</text>
<text x="346.8" y="250.5" font-size="12.8" textLength="42.3" lengthAdjust="spacingAndGlyphs" fill="#1c1c1c" stroke="#1c1c1c" stroke-width="0.3">EN/UVLO</text>
<text x="346.8" y="276" font-size="12.8" textLength="56.75" lengthAdjust="spacingAndGlyphs" fill="#1c1c1c" stroke="#1c1c1c" stroke-width="0.3">SYNC/SPRD</text>
<text x="346.8" y="303.9" font-size="12.8" textLength="21.98" lengthAdjust="spacingAndGlyphs" fill="#1c1c1c" stroke="#1c1c1c" stroke-width="0.3">INTV</text>
<text x="368.9" y="305.7" font-size="11" textLength="10.83" lengthAdjust="spacingAndGlyphs" fill="#1c1c1c" stroke="#1c1c1c" stroke-width="0.3">CC</text>
<text x="346.8" y="352.1" font-size="12.8" textLength="27.48" lengthAdjust="spacingAndGlyphs" fill="#1c1c1c" stroke="#1c1c1c" stroke-width="0.3">FAULT</text>
<line x1="347" y1="343.1" x2="375" y2="343.1" stroke="#1c1c1c" stroke-width="1"/>
<text x="346.8" y="376" font-size="12.8" textLength="23.51" lengthAdjust="spacingAndGlyphs" fill="#1c1c1c" stroke="#1c1c1c" stroke-width="0.3">CTRL</text>
<text x="346.3" y="398" font-size="12.8" textLength="6.87" lengthAdjust="spacingAndGlyphs" fill="#1c1c1c" stroke="#1c1c1c" stroke-width="0.3">V</text>
<text x="353.4" y="400.2" font-size="10.6" textLength="14.7" lengthAdjust="spacingAndGlyphs" fill="#1c1c1c" stroke="#1c1c1c" stroke-width="0.3">REF</text>
<text x="410.8" y="212.1" font-size="12.8" textLength="32.37" lengthAdjust="spacingAndGlyphs" fill="#1c1c1c" stroke="#1c1c1c" stroke-width="0.3">LT8393</text>
<text x="488.5" y="158.3" font-size="12.8" textLength="19.01" lengthAdjust="spacingAndGlyphs" fill="#1c1c1c" stroke="#1c1c1c" stroke-width="0.3">BG2</text>
<text x="489.5" y="207.2" font-size="12.8" textLength="18.04" lengthAdjust="spacingAndGlyphs" fill="#1c1c1c" stroke="#1c1c1c" stroke-width="0.3">TG2</text>
<text x="484" y="229.1" font-size="12.8" textLength="6.57" lengthAdjust="spacingAndGlyphs" fill="#1c1c1c" stroke="#1c1c1c" stroke-width="0.3">V</text>
<text x="490.8" y="231.2" font-size="10.6" textLength="17.01" lengthAdjust="spacingAndGlyphs" fill="#1c1c1c" stroke="#1c1c1c" stroke-width="0.3">OUT</text>
<text x="496" y="278.7" font-size="12.8" textLength="11.48" lengthAdjust="spacingAndGlyphs" fill="#1c1c1c" stroke="#1c1c1c" stroke-width="0.3">FB</text>
<text x="491.7" y="311.4" font-size="12.8" textLength="15.82" lengthAdjust="spacingAndGlyphs" fill="#1c1c1c" stroke="#1c1c1c" stroke-width="0.3">ISP</text>
<text x="491.7" y="356.4" font-size="12.8" textLength="15.77" lengthAdjust="spacingAndGlyphs" fill="#1c1c1c" stroke="#1c1c1c" stroke-width="0.3">ISN</text>
<text x="470" y="379.2" font-size="12.8" textLength="37.52" lengthAdjust="spacingAndGlyphs" fill="#1c1c1c" stroke="#1c1c1c" stroke-width="0.3">PWMTG</text>
<text x="483.1" y="404.4" font-size="12.8" textLength="24.44" lengthAdjust="spacingAndGlyphs" fill="#1c1c1c" stroke="#1c1c1c" stroke-width="0.3">PWM</text>
<text x="494.5" y="428" font-size="12.8" textLength="12.99" lengthAdjust="spacingAndGlyphs" fill="#1c1c1c" stroke="#1c1c1c" stroke-width="0.3">RP</text>
<text x="353.3" y="443.8" font-size="12.8" textLength="13.04" lengthAdjust="spacingAndGlyphs" fill="#1c1c1c" stroke="#1c1c1c" stroke-width="0.3">SS</text>
<text x="415.7" y="444" font-size="12.8" textLength="6.37" lengthAdjust="spacingAndGlyphs" fill="#1c1c1c" stroke="#1c1c1c" stroke-width="0.3">V</text>
<text x="422.3" y="446.3" font-size="10.3" textLength="5.72" lengthAdjust="spacingAndGlyphs" fill="#1c1c1c" stroke="#1c1c1c" stroke-width="0.3">C</text>
<text x="475.6" y="443.8" font-size="12.8" textLength="12.04" lengthAdjust="spacingAndGlyphs" fill="#1c1c1c" stroke="#1c1c1c" stroke-width="0.3">RT</text>
<line x1="877.94" y1="131.3" x2="877.94" y2="352" stroke="#444" stroke-width="1.3"/>
<line x1="902.49" y1="131.3" x2="902.49" y2="352" stroke="#444" stroke-width="1.3"/>
<line x1="927.03" y1="131.3" x2="927.03" y2="352" stroke="#444" stroke-width="1.3"/>
<line x1="951.58" y1="131.3" x2="951.58" y2="352" stroke="#444" stroke-width="1.3"/>
<line x1="976.12" y1="131.3" x2="976.12" y2="352" stroke="#444" stroke-width="1.3"/>
<line x1="1000.67" y1="131.3" x2="1000.67" y2="352" stroke="#444" stroke-width="1.3"/>
<line x1="1025.21" y1="131.3" x2="1025.21" y2="352" stroke="#444" stroke-width="1.3"/>
<line x1="1049.76" y1="131.3" x2="1049.76" y2="352" stroke="#444" stroke-width="1.3"/>
<line x1="853.4" y1="315.22" x2="1074.3" y2="315.22" stroke="#444" stroke-width="1.3"/>
<line x1="853.4" y1="278.43" x2="1074.3" y2="278.43" stroke="#444" stroke-width="1.3"/>
<line x1="853.4" y1="241.65" x2="1074.3" y2="241.65" stroke="#444" stroke-width="1.3"/>
<line x1="853.4" y1="204.87" x2="1074.3" y2="204.87" stroke="#444" stroke-width="1.3"/>
<line x1="853.4" y1="168.08" x2="1074.3" y2="168.08" stroke="#444" stroke-width="1.3"/>
<rect x="853.4" y="131.3" width="220.9" height="220.7" fill="none" stroke="#444" stroke-width="1.4"/>
<polyline points="878.7,195.6 882.6,190.4 892.1,186.9 902.5,181.7 913.8,184.3 922.1,184.8 924.2,213.8 929.5,214.6 932,215.3 935.5,217.8 941.4,221.5 945.5,224.2 949.5,229 953.7,230.8 955.8,199 962.4,202.5 971.6,214.1 981.2,219.9 990.8,227.6 1000.5,233.9 1010.1,241.1 1025.5,251.3 1049.6,268.6" fill="none" stroke="#710c2a" stroke-width="2.5" stroke-linejoin="round"/>
<polyline points="913.8,184.3 916.4,212 924.2,213.8" fill="none" stroke="#710c2a" stroke-width="2.5" stroke-linejoin="round"/>
<polyline points="953.7,230.8 960.6,236.3 964.1,207.7 971.6,214.1" fill="none" stroke="#710c2a" stroke-width="2.5" stroke-linejoin="round"/>
<text x="836.5" y="356.3" font-size="12.2" textLength="11.32" lengthAdjust="spacingAndGlyphs" fill="#2a2a2a" stroke="#2a2a2a" stroke-width="0.3">70</text>
<text x="836.5" y="319.52" font-size="12.2" textLength="11.32" lengthAdjust="spacingAndGlyphs" fill="#2a2a2a" stroke="#2a2a2a" stroke-width="0.3">75</text>
<text x="836.5" y="282.73" font-size="12.2" textLength="11.32" lengthAdjust="spacingAndGlyphs" fill="#2a2a2a" stroke="#2a2a2a" stroke-width="0.3">80</text>
<text x="836.5" y="245.95" font-size="12.2" textLength="11.32" lengthAdjust="spacingAndGlyphs" fill="#2a2a2a" stroke="#2a2a2a" stroke-width="0.3">85</text>
<text x="836.5" y="209.17" font-size="12.2" textLength="11.32" lengthAdjust="spacingAndGlyphs" fill="#2a2a2a" stroke="#2a2a2a" stroke-width="0.3">90</text>
<text x="836.5" y="172.38" font-size="12.2" textLength="11.32" lengthAdjust="spacingAndGlyphs" fill="#2a2a2a" stroke="#2a2a2a" stroke-width="0.3">95</text>
<text x="830.8" y="135.6" font-size="12.2" textLength="16.98" lengthAdjust="spacingAndGlyphs" fill="#2a2a2a" stroke="#2a2a2a" stroke-width="0.3">100</text>
<text x="850.6" y="366.8" font-size="12.2" textLength="5.56" lengthAdjust="spacingAndGlyphs" fill="#2a2a2a" stroke="#2a2a2a" stroke-width="0.3">0</text>
<text x="875.14" y="366.8" font-size="12.2" textLength="5.56" lengthAdjust="spacingAndGlyphs" fill="#2a2a2a" stroke="#2a2a2a" stroke-width="0.3">5</text>
<text x="896.84" y="366.8" font-size="12.2" textLength="11.32" lengthAdjust="spacingAndGlyphs" fill="#2a2a2a" stroke="#2a2a2a" stroke-width="0.3">10</text>
<text x="921.38" y="366.8" font-size="12.2" textLength="11.32" lengthAdjust="spacingAndGlyphs" fill="#2a2a2a" stroke="#2a2a2a" stroke-width="0.3">15</text>
<text x="945.93" y="366.8" font-size="12.2" textLength="11.32" lengthAdjust="spacingAndGlyphs" fill="#2a2a2a" stroke="#2a2a2a" stroke-width="0.3">20</text>
<text x="970.47" y="366.8" font-size="12.2" textLength="11.32" lengthAdjust="spacingAndGlyphs" fill="#2a2a2a" stroke="#2a2a2a" stroke-width="0.3">25</text>
<text x="995.02" y="366.8" font-size="12.2" textLength="11.32" lengthAdjust="spacingAndGlyphs" fill="#2a2a2a" stroke="#2a2a2a" stroke-width="0.3">30</text>
<text x="1019.56" y="366.8" font-size="12.2" textLength="11.32" lengthAdjust="spacingAndGlyphs" fill="#2a2a2a" stroke="#2a2a2a" stroke-width="0.3">35</text>
<text x="1044.11" y="366.8" font-size="12.2" textLength="11.32" lengthAdjust="spacingAndGlyphs" fill="#2a2a2a" stroke="#2a2a2a" stroke-width="0.3">40</text>
<text x="1068.65" y="366.8" font-size="12.2" textLength="11.32" lengthAdjust="spacingAndGlyphs" fill="#2a2a2a" stroke="#2a2a2a" stroke-width="0.3">45</text>
<text x="918.35" y="382.8" font-size="12.2" textLength="91.66" lengthAdjust="spacingAndGlyphs" fill="#2a2a2a" stroke="#2a2a2a" stroke-width="0.3">INPUT VOLTAGE (V)</text>
<g transform="translate(823.9,279.1) rotate(-90)">
<text x="0" y="0" font-size="11.8" textLength="76.6" lengthAdjust="spacingAndGlyphs" fill="#2a2a2a" stroke="#2a2a2a" stroke-width="0.3">EFFICIENCY (%)</text>
</g>
<text x="900.2" y="108.8" font-size="19.6" font-weight="bold" textLength="115.98" lengthAdjust="spacingAndGlyphs" fill="#111">Efficiency vs V</text>
<text x="1016.3" y="113.3" font-size="17" font-weight="bold" textLength="12.3" lengthAdjust="spacingAndGlyphs" fill="#111">IN</text>
</svg>
</body></html>
